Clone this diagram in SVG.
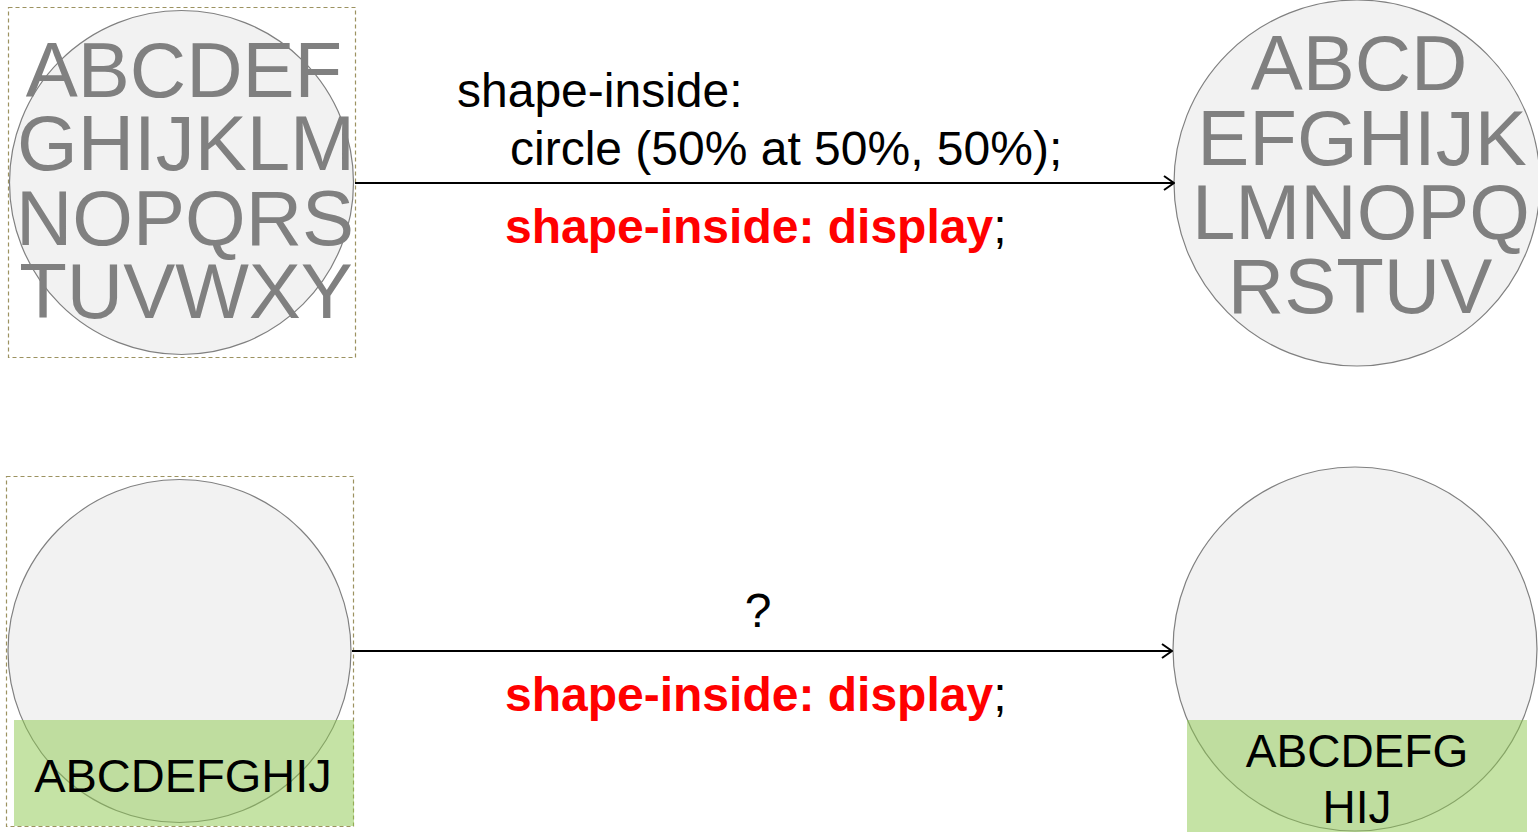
<svg xmlns="http://www.w3.org/2000/svg" width="1538" height="832" viewBox="0 0 1538 832">
<style>
.frame{fill:none;stroke:#9c9260;stroke-width:1.2;stroke-dasharray:4 3}
.circ{fill:#f2f2f2;stroke:#808080;stroke-width:1.2}
.green{fill:#8bc74b;fill-opacity:0.5}
.big{font-family:"Liberation Sans",Arial,sans-serif;font-size:78px;fill:#808080;text-anchor:middle}
.mid{font-family:"Liberation Sans",Arial,sans-serif;font-size:48px;fill:#000}
.red{font-weight:bold;fill:#ff0000}
.small{font-family:"Liberation Sans",Arial,sans-serif;font-size:47px;fill:#000;text-anchor:middle}
.conn{stroke:#000;stroke-width:2;fill:none}
</style>
<defs>
<marker id="open" viewBox="0 0 12 16" refX="11" refY="8" markerWidth="12" markerHeight="16" markerUnits="userSpaceOnUse" orient="auto">
<path d="M1 1 L11 8 L1 15" fill="none" stroke="#000" stroke-width="2"/>
</marker>
</defs>
<g id="src-top">
<rect class="frame" x="8.5" y="7.5" width="347" height="350"/>
<circle class="circ" cx="181.5" cy="182.5" r="172"/>
<text class="big" x="184" y="97">ABCDEF</text>
<text class="big" x="186" y="170">GHIJKLM</text>
<text class="big" x="185" y="245">NOPQRS</text>
<text class="big" x="186" y="318">TUVWXY</text>
</g>
<g id="dst-top">
<circle class="circ" cx="1357" cy="183" r="183"/>
<text class="big" x="1359" y="90">ABCD</text>
<text class="big" x="1362" y="165">EFGHIJK</text>
<text class="big" x="1361" y="239">LMNOPQ</text>
<text class="big" x="1360" y="313">RSTUV</text>
</g>
<g id="src-bottom">
<rect class="frame" x="6.5" y="476.5" width="347" height="350"/>
<circle class="circ" cx="179.5" cy="651" r="171.5"/>
<rect class="green" x="14" y="720" width="340" height="106"/>
<text class="small" x="183" y="792">ABCDEFGHIJ</text>
</g>
<g id="dst-bottom">
<circle class="circ" cx="1355" cy="649" r="182"/>
<rect class="green" x="1187" y="720" width="340" height="112"/>
<text class="small" x="1357" y="767" style="font-size:46px">ABCDEFG</text>
<text class="small" x="1357" y="823" style="font-size:46px">HIJ</text>
</g>
<g id="connectors">
<line class="conn" x1="355" y1="183" x2="1174" y2="183" marker-end="url(#open)"/>
<line class="conn" x1="352" y1="651" x2="1172" y2="651" marker-end="url(#open)"/>
<text class="mid" x="457" y="107">shape-inside:</text>
<text class="mid" x="510" y="165">circle (50% at 50%, 50%);</text>
<text class="mid" x="505" y="243"><tspan class="red">shape-inside: display</tspan>;</text>
<text class="mid" x="758" y="627" text-anchor="middle">?</text>
<text class="mid" x="505" y="711"><tspan class="red">shape-inside: display</tspan>;</text>
</g>
</svg>
